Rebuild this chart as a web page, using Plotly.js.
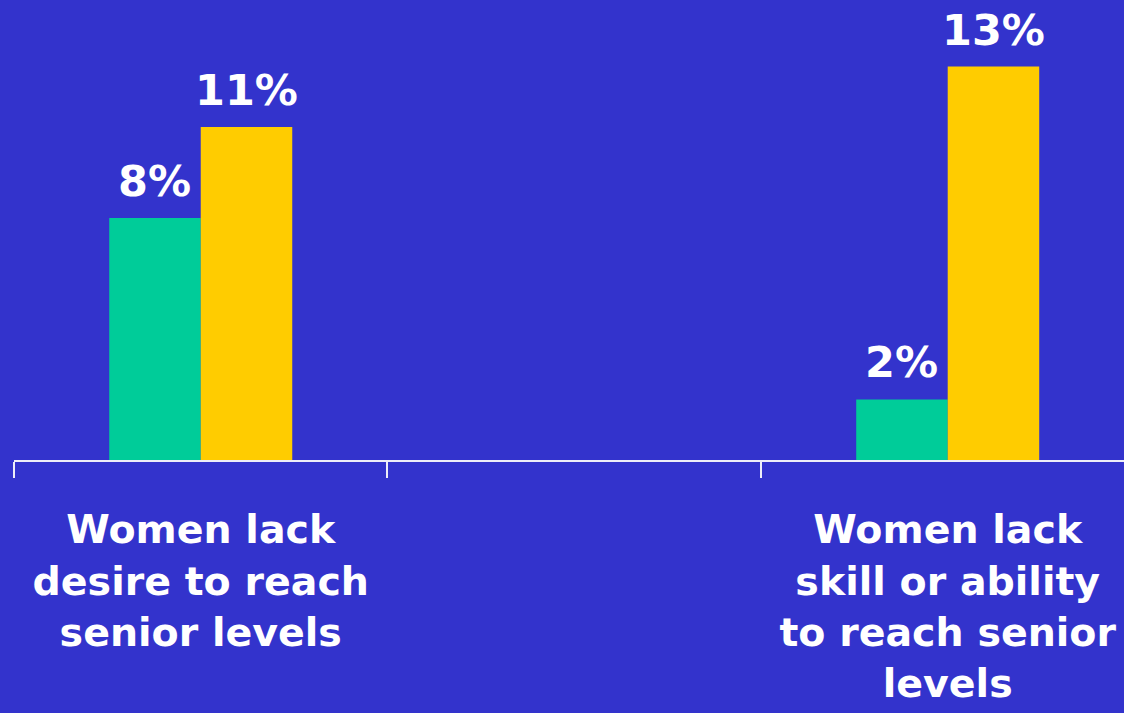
<!DOCTYPE html>
<html>
<head>
<meta charset="utf-8">
<script src="https://cdn.plot.ly/plotly-3.0.1.min.js"></script>
<style>html,body{margin:0;padding:0;background:#3333CC;}#chart{width:1124px;height:713px;}</style>
</head>
<body>
<div id="chart"></div>
<script>
const categories = ["Women lack<br>desire to reach<br>senior levels", " ", "Women lack<br>skill or ability<br>to reach senior<br>levels"];
const seriesA = [8, null, 2];
const seriesB = [11, null, 13];
const seriesNames = ["Series A", "Series B"];
const colors = ["#00CC99", "#FFCC00"];

const bg = "#3333CC";
const traces = [seriesA, seriesB].map((vals, i) => ({
  type: "bar",
  name: seriesNames[i],
  x: categories,
  y: vals,
  marker: {color: colors[i], line: {width: 0}},
  hoverinfo: "skip"
}));

const annotations = [];
[seriesA, seriesB].forEach((vals, i) => {
  vals.forEach((v, j) => {
    if (v === null) return;
    annotations.push({
      x: j, xref: "x", y: v, yref: "y",
      text: v + "%",
      showarrow: false,
      xanchor: "center", yanchor: "bottom",
      xshift: i === 0 ? -45.75 : 45.75,
      yshift: 10,
      font: {family: "DejaVu Sans", size: 43, color: "#FFFFFF", weight: "bold"}
    });
  });
});

const layout = {
  width: 1124, height: 713,
  paper_bgcolor: bg, plot_bgcolor: bg,
  margin: {l: 14, r: 0, t: 0, b: 253},
  showlegend: false,
  barmode: "group",
  bargap: 0.51,
  bargroupgap: 0,
  xaxis: {
    type: "category",
    range: [-0.5, 2.472],
    showline: true, linecolor: "#EDEDF8", linewidth: 2,
    ticks: "outside", tickson: "boundaries", ticklen: 16, tickwidth: 2, tickcolor: "#EDEDF8",
    showgrid: false, zeroline: false,
    tickfont: {family: "DejaVu Sans", size: 39.5, color: "#FFFFFF", weight: "bold"},
    tickangle: 0,
    ticklabelstandoff: 34,
    automargin: false,
    fixedrange: true
  },
  yaxis: {
    range: [0, 15.2],
    visible: false,
    showgrid: false, zeroline: false,
    fixedrange: true
  },
  annotations: annotations
};

Plotly.newPlot("chart", traces, layout, {displayModeBar: false, staticPlot: true});
</script>
</body>
</html>
